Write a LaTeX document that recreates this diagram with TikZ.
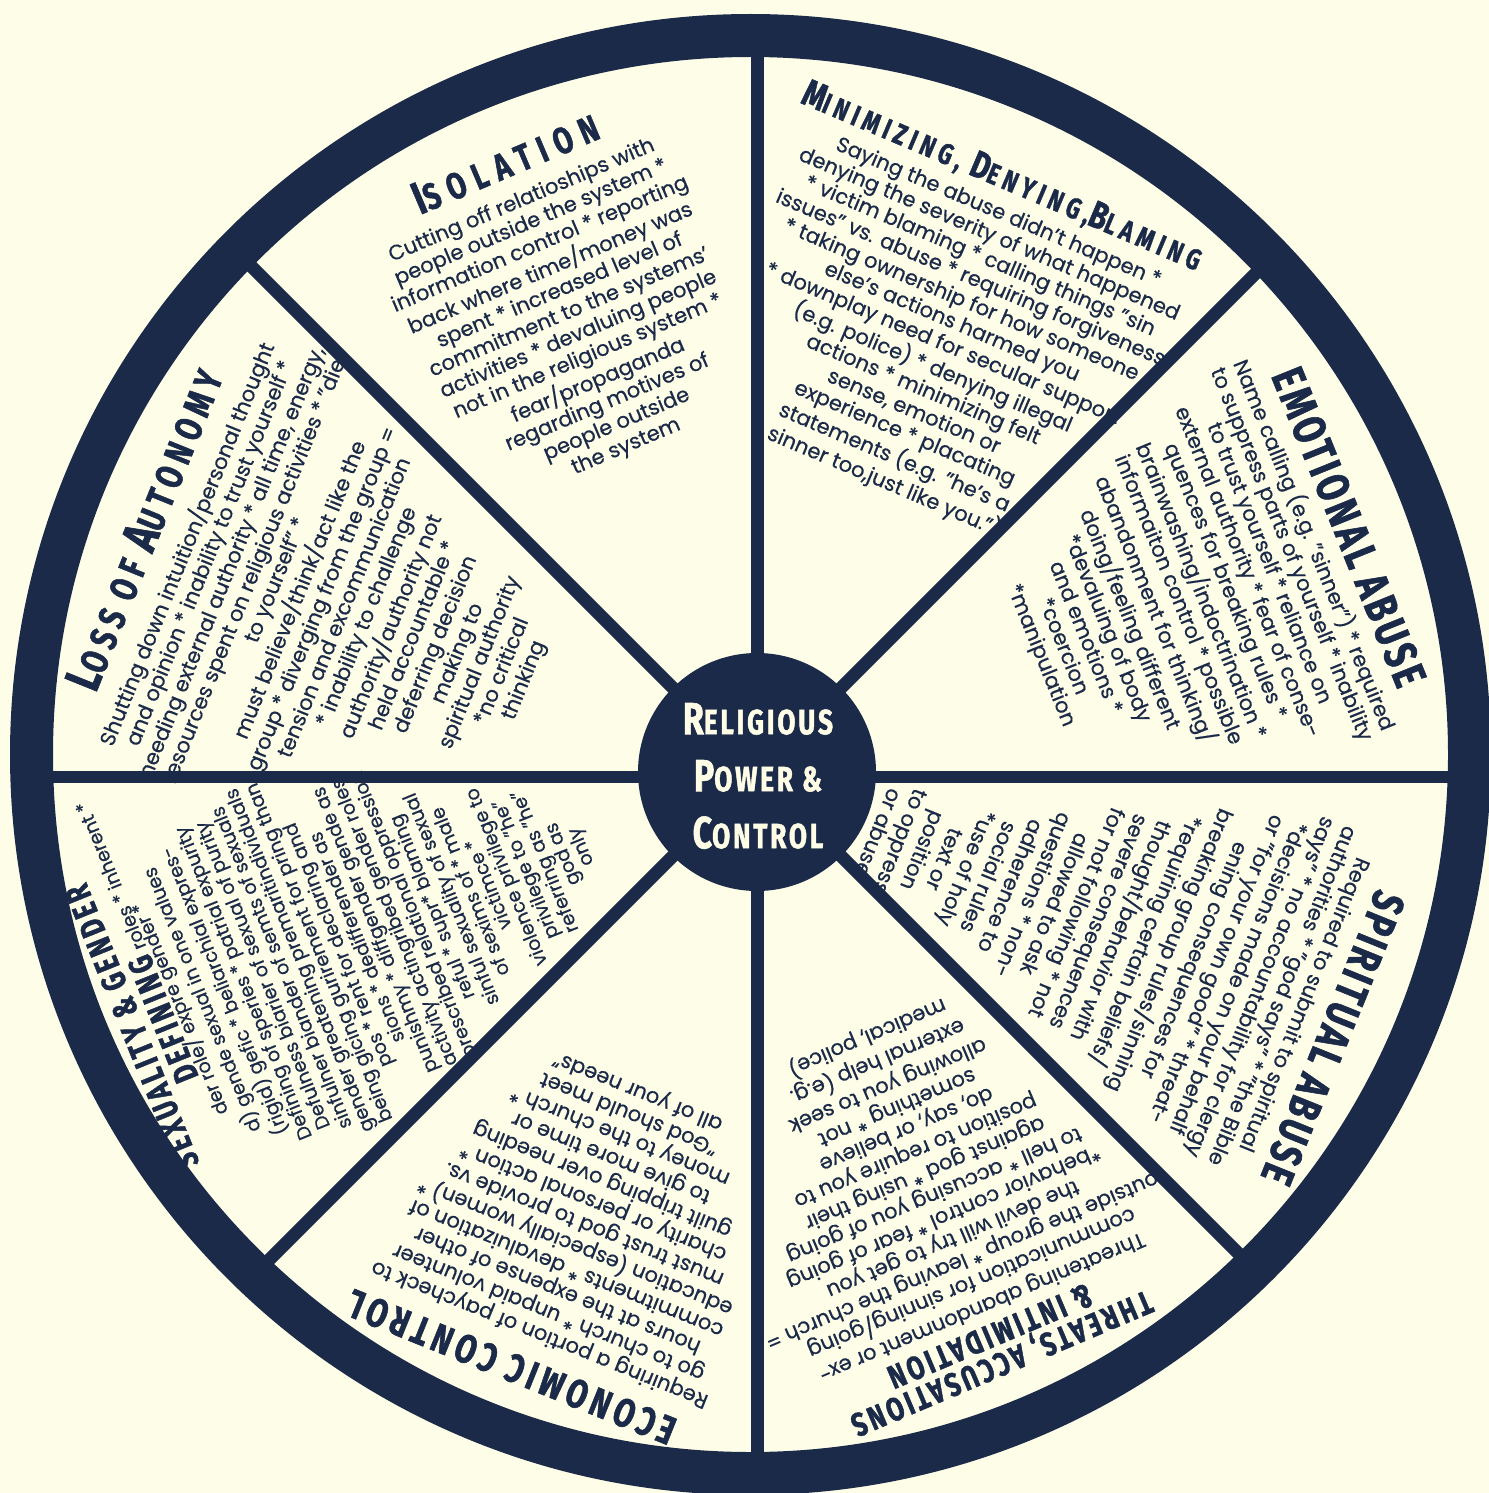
\documentclass[tikz,border=0pt]{standalone}
\usepackage{fontspec}
\setmainfont{Poppins}[FakeBold=0.5]
\newfontfamily\titlefont{Fira Sans}[FakeStretch=0.75, BoldFeatures={FakeBold=1.3}]
\definecolor{navy}{HTML}{1B2A48}
\definecolor{cream}{HTML}{FEFEE8}
\definecolor{hubtext}{HTML}{FFFDE6}
\newcommand\fs[2]{{\fontsize{#1bp}{#1bp}\selectfont #2}}
\begin{document}
\begin{tikzpicture}[x=1bp,y=-1bp,
  body/.style={font=\fontsize{21bp}{23.8bp}\selectfont, text=navy, align=center, inner sep=0pt},
  ttl/.style={text=navy, align=center, inner sep=0pt},
  spoke/.style={draw=navy, line width=13bp}]
\useasboundingbox (0,0) rectangle (1489,1493);
\clip (0,0) rectangle (1489,1493);
\fill[cream] (0,0) rectangle (1489,1493);

% ---------- Isolation ----------
\node[ttl, rotate=23, font=\titlefont\bfseries\addfontfeatures{LetterSpace=24}] (isoT) at (505,162) {\fs{46}{I}\fs{37}{SOLATION}};
\node[body, rotate=23] (isoB) at (574,324) {Cutting off relatioships with\\people outside the system *\\information control * reporting\\back where time/money was\\spent * increased level of\\commitment to the systems'\\activities * devaluing people\\not in the religious system *\\fear/propaganda\\regarding motives of\\people outside\\the system};

% ---------- Minimizing ----------
\node[ttl, rotate=-23, font=\titlefont\bfseries\addfontfeatures{LetterSpace=18}] (minT) at (1002,177) {\fs{38}{M}\fs{29}{INIMIZING, }\fs{38}{D}\fs{29}{ENYING,}\fs{38}{B}\fs{29}{LAMING}};
\node[body, rotate=-23] (minB) at (941,348) {Saying the abuse didn't happen *\\denying the severity of what happened\\* victim blaming * calling things "sin\\issues" vs. abuse * requiring forgiveness\\* taking ownership for how someone\\else's actions harmed you\\* downplay need for secular support\\(e.g. police) * denying illegal\\actions * minimizing felt\\sense, emotion or\\experience * placating\\statements (e.g. "he's a\\sinner too,just like you.")};

% ---------- Emotional abuse ----------
\node[ttl, rotate=-68, font=\titlefont\bfseries\addfontfeatures{LetterSpace=8}] (emoT) at (1349,527) {\fs{46}{EMOTIONAL ABUSE}};
\node[body, rotate=-68] (emoB) at (1178,600) {Name calling (e.g. "sinner") * required\\to suppress parts of yourself * inability\\to trust yourself * reliance on\\external authority * fear of conse-\\quences for breaking rules *\\brainwashing/indoctrination *\\informaiton control * possible\\abandonment for thinking/\\doing/feeling different\\*devaluing of body\\and emotions *\\*coercion\\*manipulation};

% ---------- Spiritual abuse ----------
\node[ttl, rotate=-112, font=\titlefont\bfseries\addfontfeatures{LetterSpace=8}] (spiT) at (1333,1038) {\fs{45}{SPIRITUAL ABUSE}};
\node[body, rotate=-112] (spiB) at (1092,919) {Required to submit to spiritual\\authorities * "god says" * "the Bible\\says" * no accountability for clergy\\*decisions made on your behalf\\or "for your own good" * threat-\\ening consequences for\\breaking group rules/sinning\\*requiring certain beliefs/\\thought/behavior with\\severe consequences\\for not following * not\\allowed to ask\\questions * non-\\adherence to\\social rules\\*use of holy\\text or\\position\\to oppress\\or abuse};

% ---------- Threats ----------
\node[ttl, rotate=-157, font=\titlefont\bfseries\addfontfeatures{LetterSpace=10}\fontsize{33bp}{30bp}\selectfont] (thrT) at (996,1350) {THREATS, ACCUSATIONS\\\& INTIMIDATION};
\node[body, rotate=-157] (thrB) at (924,1171) {Threatening abandonment or ex-\\communication for sinning/going\\outside the group * leaving the church =\\the devil will try to get you\\*behavior control * fear of going\\to hell * accusing you of going\\against god * using their\\position to require you to\\do, say, or believe\\something * not\\allowing you to seek\\external help (e.g.\\medical, police)};

% ---------- Economic ----------
\node[ttl, rotate=158, font=\titlefont\bfseries\addfontfeatures{LetterSpace=13}] (ecoT) at (511,1367) {\fs{40}{ECONOMIC CONTROL}};
\node[body, rotate=158] (ecoB) at (589,1212) {Requiring a portion of paycheck to\\go to church * unpaid volunteer\\hours at the expense of other\\commitments * devaluization of\\education (especially women) *\\must trust god to provide vs.\\charity or personal action *\\guilt tripping over needing\\to give more time or\\money to the church *\\"God should meet\\all of your needs"};

% ---------- Sexuality ----------
\node[ttl, rotate=112, font=\titlefont\bfseries\addfontfeatures{LetterSpace=11}] (sexT) at (132,1027) {\fs{34}{SEXUALITY \& GENDER}};
\node[ttl, rotate=112, font=\titlefont\bfseries\addfontfeatures{LetterSpace=11}] (sexD) at (163,1019) {\fs{34}{DEFINING}};
\node[body, rotate=112, anchor=base west, font=\fontsize{19bp}{19.4bp}\selectfont] (sexR) at (sexD.base east) {\hspace{6bp}roles * inherent *};
\node[body, rotate=112, font=\fontsize{19bp}{19.4bp}\selectfont] (sexB) at (380,928) {der role/ expre gender *\\d) gende sexual in one values\\(rigid) gefic * beliarchial expres-\\Defining of speries * patrial expurity\\Defulness biarier of sexual of purity\\sinfulner biander of semts of sexuals\\gender greatening premaritindividuals\\being gicing gurirement for pring than\\pos * rent for declaring and\\sions * dedifferender as\\punishmy * diffgender gende as\\activity actingribed gender roles\\prescribed relational oppression\\reful * supr* blaming\\sinful sexuality of sexual\\of sexims of * male\\victimce *\\violence privilege to\\privilege to "he"\\referring as "he"\\god as\\only};

% ---------- Loss of autonomy ----------
\node[ttl, rotate=68, font=\titlefont\bfseries\addfontfeatures{LetterSpace=17}] (losT) at (144,529) {\fs{50}{L}\fs{38}{OSS OF }\fs{50}{A}\fs{38}{UTONOMY}};
\node[body, rotate=68] (losB) at (355,612) {Shutting down intuition/personal thought\\and opinion * inability to trust yourself *\\needing external authority * all time, energy,\\resources spent on religious activities * "die\\to yourself" *\\must believe/think/act like the\\group * diverging from the group =\\tension and excommunication\\* inability to challenge\\authority/authority not\\held accountable *\\deferring decision\\making to\\spiritual authority\\*no critical\\thinking};

% ---------- spokes ----------
\coordinate (hubc) at (757,772);
\coordinate (sN) at (757,35);
\coordinate (sS) at (757,1478);
\coordinate (sW) at (30,777);
\coordinate (sE) at (1472,777);
\coordinate (sNW) at (227,242);
\coordinate (sNE) at (1282,247);
\coordinate (sSE) at (1262,1277);
\coordinate (sSW) at (245,1284);
\draw[spoke] (sN) -- (sS);
\draw[spoke, line width=12bp] (sW) -- (sE);
\draw[spoke] (hubc) -- (sNW);
\draw[spoke] (hubc) -- (sNE);
\draw[spoke] (hubc) -- (sSE);
\draw[spoke] (hubc) -- (sSW);

% ---------- outer ring ----------
\fill[navy, even odd rule] (750.5,754.5) circle[radius=740.5] circle[radius=697.5];

% ---------- hub ----------
\fill[navy] (hubc) circle[radius=119];
\node[text=hubtext, align=center, inner sep=0pt, font=\titlefont\bfseries\addfontfeatures{LetterSpace=8}\fontsize{35bp}{57bp}\selectfont] (hubT) at (758,776) {\fs{45}{R}\fs{35}{ELIGIOUS}\\\fs{45}{P}\fs{35}{OWER \&}\\\fs{45}{C}\fs{35}{ONTROL}};
\end{tikzpicture}
\end{document}
